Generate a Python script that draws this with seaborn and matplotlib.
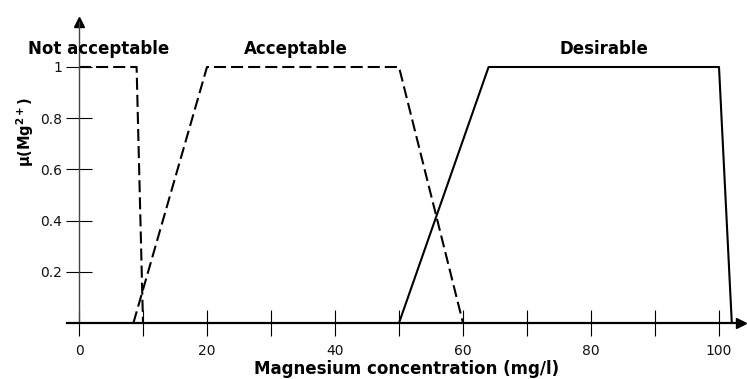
import matplotlib
matplotlib.use("Agg")
import matplotlib.pyplot as plt
import seaborn as sns
import numpy as np

# Data: membership functions (x in mg/l, y membership)
not_x = [0, 9, 10]
not_y = [1, 1, 0]
acc_x = [8.5, 20, 50, 60]
acc_y = [0, 1, 1, 0]
des_x = [50, 64, 100, 102]
des_y = [0, 1, 1, 0]

category_labels = ["Not acceptable", "Acceptable", "Desirable"]
category_x = [3.05, 33.9, 82.0]
x_major = [0, 20, 40, 60, 80, 100]
x_minor = [10, 30, 50, 70, 90]
y_ticks = [0.2, 0.4, 0.6, 0.8, 1.0]
y_ticklabels = ["0.2", "0.4", "0.6", "0.8", "1"]

sns.set_style("white")
plt.rcParams['font.family'] = ['DejaVu Sans']
plt.rcParams['mathtext.default'] = 'bf'

fig = plt.figure(figsize=(7.47, 3.79), dpi=100)
ax = fig.add_axes([0, 0, 1, 1])
ax.set_facecolor("white")

dash = (0, (5.8, 2.4))
sns.lineplot(x=not_x, y=not_y, ax=ax, sort=False, estimator=None,
             color="black", lw=1.5, linestyle=dash, clip_on=False)
sns.lineplot(x=acc_x, y=acc_y, ax=ax, sort=False, estimator=None,
             color="black", lw=1.5, linestyle=dash, clip_on=False)
sns.lineplot(x=des_x, y=des_y, ax=ax, sort=False, estimator=None,
             color="black", lw=1.5, clip_on=False)

ax.set_xlim(-79 / 6.4, (747 - 79) / 6.4)
ax.set_ylim((323 - 379) / 256, 323 / 256)

for s in ["top", "right"]:
    ax.spines[s].set_visible(False)
ax.spines["left"].set_position(("data", 0))
ax.spines["bottom"].set_position(("data", 0))
ax.spines["left"].set_bounds(0, 1.176)
ax.spines["bottom"].set_bounds(-1.9, 103.4)
ax.spines["left"].set_color("#444444")
ax.spines["left"].set_linewidth(1.0)
ax.spines["bottom"].set_color("black")
ax.spines["bottom"].set_linewidth(1.6)

# axis arrows
ax.plot([0], [1.176], marker="^", color="black", ms=7, clip_on=False)
ax.plot([103.4], [0], marker=">", color="black", ms=7, clip_on=False)

ax.set_xticks(x_major)
ax.set_xticks(x_minor, minor=True)
ax.set_yticks(y_ticks)
ax.set_yticklabels(y_ticklabels)
ax.tick_params(axis="both", which="both", direction="inout", length=18.7,
               width=0.8, color="black", labelsize=10, labelcolor="#111111")
ax.tick_params(axis="x", which="both", bottom=True, pad=5.5)
ax.tick_params(axis="y", which="both", left=True, pad=3)

for lab, cx in zip(category_labels, category_x):
    ax.text(cx, 1.049, lab, ha="center", va="baseline", fontsize=12,
            fontweight="bold", color="black")

ax.text(51.25, -0.198, "Magnesium concentration (mg/l)", ha="center",
        va="baseline", fontsize=12, fontweight="bold", color="black")
ax.text(-8.44, 0.746, r"μ(Mg$^{2+}$)", ha="center", va="center",
        rotation=90, fontsize=10.5, fontweight="bold", color="black")

fig.savefig("out.png", dpi=100, facecolor="white")
